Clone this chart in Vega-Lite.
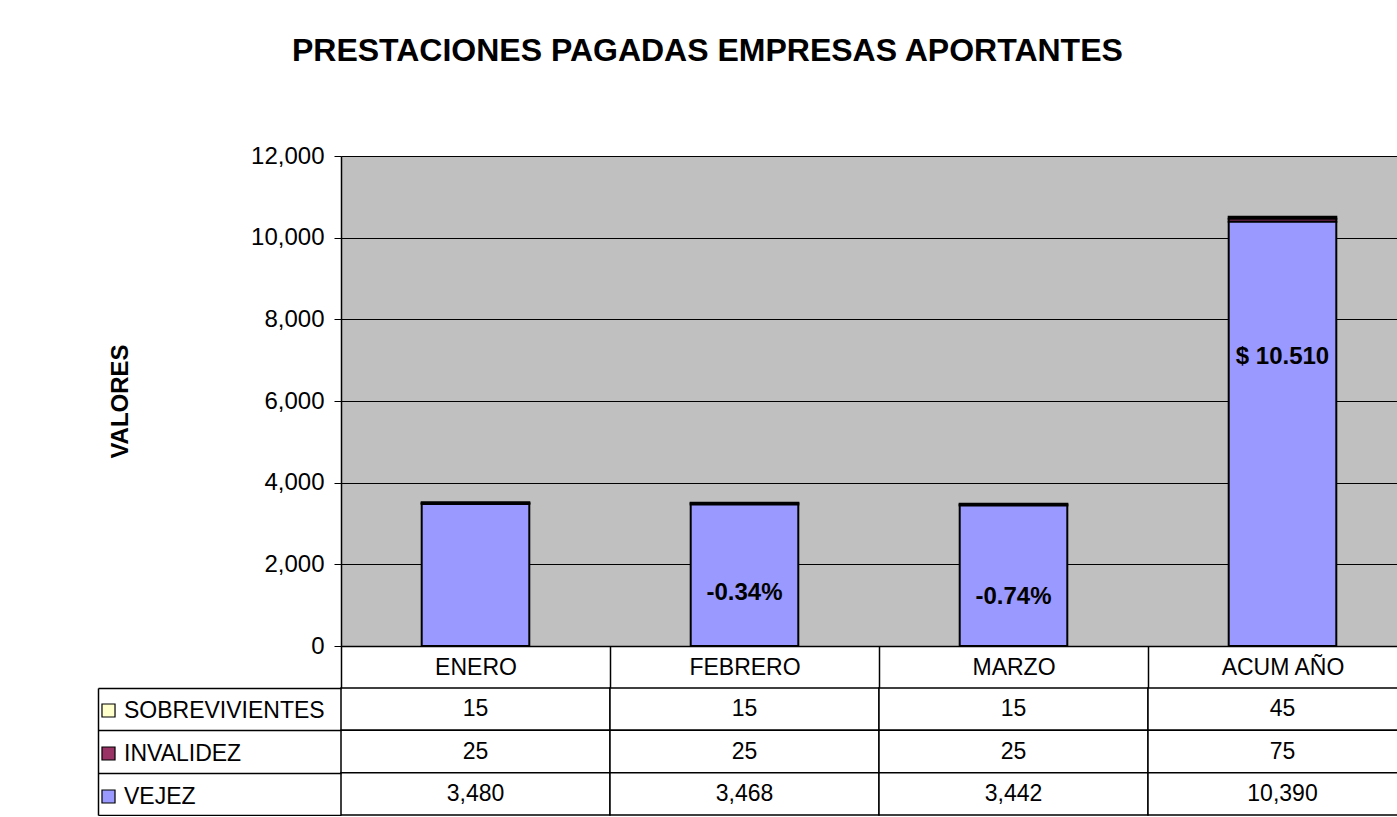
{
  "$schema": "https://vega.github.io/schema/vega-lite/v6.json",
  "background": "white",
  "padding": {"left": 97, "top": 35, "right": 0, "bottom": 0},
  "bounds": "flush",
  "spacing": 42,
  "datasets": {
    "d": [
      {"mes": "ENERO", "serie": "SOBREVIVIENTES", "n": 3, "valor": 15},
      {"mes": "ENERO", "serie": "INVALIDEZ", "n": 2, "valor": 25},
      {"mes": "ENERO", "serie": "VEJEZ", "n": 1, "valor": 3480},
      {"mes": "FEBRERO", "serie": "SOBREVIVIENTES", "n": 3, "valor": 15},
      {"mes": "FEBRERO", "serie": "INVALIDEZ", "n": 2, "valor": 25},
      {"mes": "FEBRERO", "serie": "VEJEZ", "n": 1, "valor": 3468},
      {"mes": "MARZO", "serie": "SOBREVIVIENTES", "n": 3, "valor": 15},
      {"mes": "MARZO", "serie": "INVALIDEZ", "n": 2, "valor": 25},
      {"mes": "MARZO", "serie": "VEJEZ", "n": 1, "valor": 3442},
      {"mes": "ACUM AÑO", "serie": "SOBREVIVIENTES", "n": 3, "valor": 45},
      {"mes": "ACUM AÑO", "serie": "INVALIDEZ", "n": 2, "valor": 75},
      {"mes": "ACUM AÑO", "serie": "VEJEZ", "n": 1, "valor": 10390}
    ],
    "lbl": [
      {"mes": "FEBRERO", "txt": "-0.34%", "at": 1300},
      {"mes": "MARZO", "txt": "-0.74%", "at": 1200},
      {"mes": "ACUM AÑO", "txt": "$ 10.510", "at": 7080}
    ]
  },
  "title": {
    "text": "PRESTACIONES PAGADAS EMPRESAS APORTANTES",
    "font": "Liberation Sans",
    "fontSize": 32,
    "fontWeight": "bold",
    "color": "black",
    "anchor": "middle",
    "dx": -50,
    "offset": 76
  },
  "config": {
    "font": "Liberation Sans",
    "view": {"stroke": null}
  },
  "vconcat": [
    {
      "width": 1076,
      "height": 490,
      "view": {"fill": "#C0C0C0", "stroke": null},
      "layer": [
        {
          "data": {"name": "d"},
          "mark": {"type": "bar", "stroke": "black", "strokeWidth": 2, "width": {"band": 0.4}},
          "encoding": {
            "x": {
              "field": "mes", "type": "nominal",
              "sort": ["ENERO", "FEBRERO", "MARZO", "ACUM AÑO"],
              "scale": {"paddingInner": 0, "paddingOuter": 0},
              "axis": {
                "title": null, "labelAngle": 0, "labelFontSize": 23, "labelColor": "black",
                "labelBaseline": "middle", "labelPadding": -21,
                "tickSize": 42, "tickBand": "extent", "tickColor": "black", "tickWidth": 1.5,
                "domainColor": "black", "domainWidth": 1.5, "grid": false
              }
            },
            "y": {
              "field": "valor", "type": "quantitative", "stack": "zero",
              "scale": {"domain": [0, 12000], "nice": false},
              "axis": {
                "title": "VALORES", "titleFontSize": 24, "titleFontWeight": "bold", "titleColor": "black",
                "titlePadding": 118,
                "values": [0, 2000, 4000, 6000, 8000, 10000, 12000], "format": ",d",
                "labelFontSize": 24, "labelColor": "black", "labelPadding": 10,
                "tickSize": 7, "tickColor": "black", "domainColor": "black", "domainWidth": 1.5,
                "grid": true, "gridColor": "black", "gridOpacity": 1, "gridWidth": 1
              }
            },
            "color": {
              "field": "serie", "type": "nominal",
              "scale": {"domain": ["SOBREVIVIENTES", "INVALIDEZ", "VEJEZ"], "range": ["#FFFFCC", "#993366", "#9999FF"]},
              "legend": {
                "orient": "none", "legendX": -244, "legendY": 543, "title": null,
                "symbolType": "square", "symbolSize": 170, "symbolStrokeColor": "black", "symbolStrokeWidth": 1.2,
                "labelFontSize": 23, "labelColor": "black", "rowPadding": 19, "labelOffset": 4, "labelLimit": 400
              }
            },
            "order": {"field": "n", "type": "quantitative"}
          }
        },
        {
          "data": {"name": "lbl"},
          "mark": {"type": "text", "fontSize": 24, "fontWeight": "bold", "color": "black"},
          "encoding": {
            "x": {"field": "mes", "type": "nominal", "sort": ["ENERO", "FEBRERO", "MARZO", "ACUM AÑO"]},
            "y": {"field": "at", "type": "quantitative"},
            "text": {"field": "txt"}
          }
        }
      ]
    },
    {
      "width": 1076,
      "height": 127,
      "data": {"name": "d"},
      "encoding": {
        "x": {
          "field": "mes", "type": "nominal",
          "sort": ["ENERO", "FEBRERO", "MARZO", "ACUM AÑO"],
          "scale": {"paddingInner": 0, "paddingOuter": 0},
          "axis": null
        },
        "y": {
          "field": "serie", "type": "nominal",
          "scale": {"domain": ["SOBREVIVIENTES", "INVALIDEZ", "VEJEZ"], "paddingInner": 0, "paddingOuter": 0},
          "axis": {
            "title": null, "labels": false, "offset": 243, "domain": true, "domainColor": "black", "domainWidth": 1.5,
            "ticks": true, "tickSize": -243, "tickBand": "extent", "tickColor": "black", "tickWidth": 1.5, "grid": false
          }
        }
      },
      "layer": [
        {"mark": {"type": "rect", "fill": "white", "stroke": "black", "strokeWidth": 1.5}},
        {
          "mark": {"type": "text", "fontSize": 23, "color": "black"},
          "encoding": {"text": {"field": "valor", "type": "quantitative", "format": ",d"}}
        }
      ]
    }
  ]
}
